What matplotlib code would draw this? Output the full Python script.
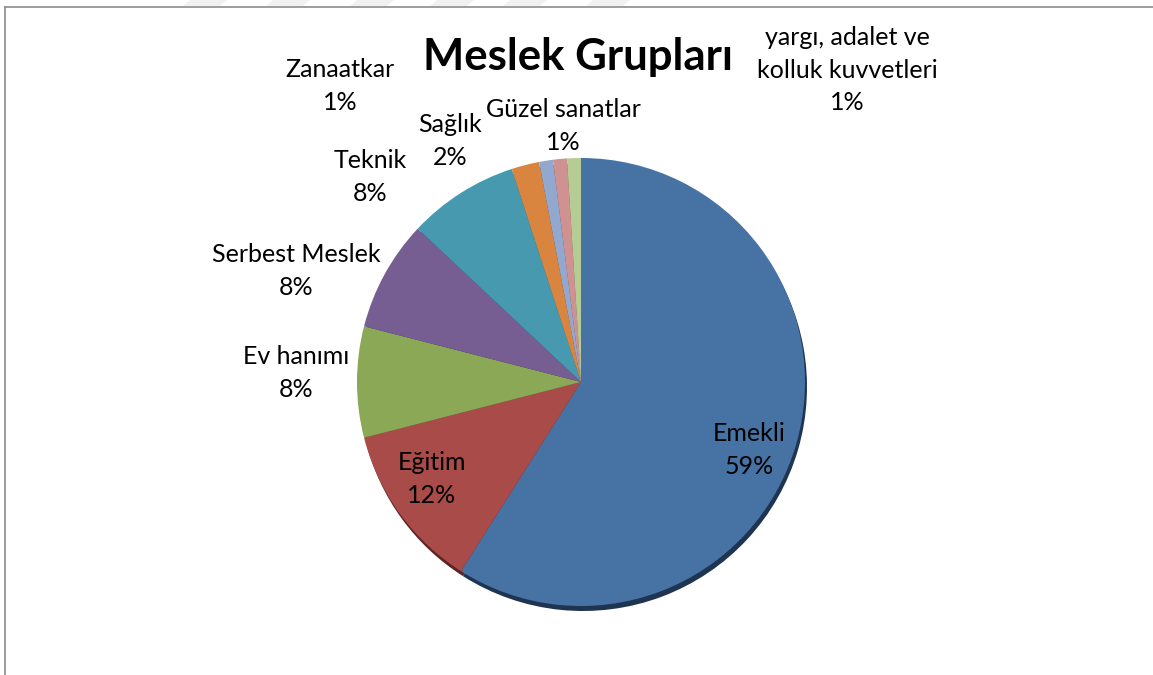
import matplotlib.pyplot as plt
from matplotlib.patches import Polygon

# data
meslekler = ["Emekli", "Eğitim", "Ev hanımı", "Serbest Meslek", "Teknik",
             "Sağlık", "Güzel sanatlar", "Zanaatkar",
             "yargı, adalet ve\nkolluk kuvvetleri"]
yuzdeler = [59, 12, 8, 8, 8, 2, 1, 1, 1]
renkler = ["#4672A4", "#A84B49", "#8AA855", "#765D92", "#4799AF",
           "#D9843F", "#93A8CE", "#CF9291", "#B6CC94"]
golge = ["#1E3450", "#5E2524", "#4A5C2C", "#3C2F4B", "#25505C",
         "#6E4320", "#4A556A", "#6A4A4A", "#5E6A4C"]

# label centres in pixel coords (y from top)
etiket_yer = [(749, 450), (432, 479), (296, 373), (296, 271), (370, 177),
              (450, 141), (563, 126), (340, 86), (847, 70)]

W, H = 1153, 675
fig = plt.figure(figsize=(W / 100, H / 100), dpi=100)
ax = fig.add_axes([0, 0, 1, 1])

cx, cy, r = 581, H - 382, 224

# dark rim under the pie (3d look)
ax.pie(yuzdeler, colors=golge, startangle=90, counterclock=False,
       center=(cx + 2, cy - 5), radius=r, wedgeprops=dict(linewidth=0))
ax.pie(yuzdeler, colors=renkler, startangle=90, counterclock=False,
       center=(cx, cy), radius=r, wedgeprops=dict(linewidth=0))

for ad, yuzde, (x, y) in zip(meslekler, yuzdeler, etiket_yer):
    ax.text(x, H - y, f"{ad}\n{yuzde}%", ha="center", va="center",
            fontsize=18, family="Lato", linespacing=1.5, color="black")

ax.text(578, H - 57, "Meslek Grupları", ha="center", va="center",
        fontsize=31.5, fontweight="bold", family="Lato")

ax.set_xlim(0, W)
ax.set_ylim(0, H)
ax.set_aspect("equal")
ax.axis("off")

# chart frame (only left and top visible)
ax.plot([5, 5], [0, H - 7], color="#8C8C8C", lw=1.2)
ax.plot([5, W], [H - 7, H - 7], color="#8C8C8C", lw=1.2)

# faint watermark stripes at the very top
for x0 in [190, 273, 357, 437, 510, 593]:
    ax.add_patch(Polygon([(x0, H), (x0 + 37, H), (x0 + 30, H - 6), (x0 - 7, H - 6)],
                         closed=True, color="#F1F1F1", lw=0))

fig.savefig("out.png", dpi=100)
